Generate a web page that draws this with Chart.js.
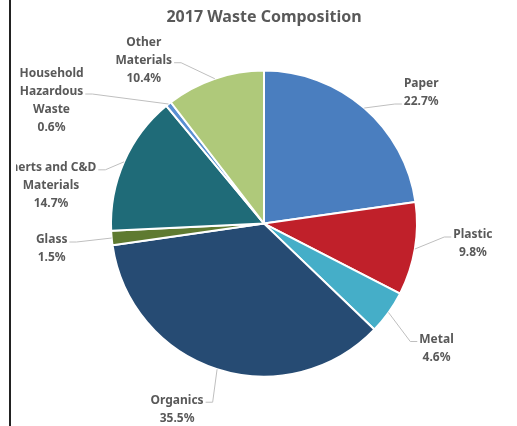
<!DOCTYPE html>
<html>
<head>
<meta charset="utf-8">
<script src="https://cdn.jsdelivr.net/npm/chart.js@4"></script>
<style>
  html, body { margin: 0; padding: 0; background: #fff; }
  #wrap { position: relative; width: 517px; height: 426px; }
  #frame { position: absolute; left: 9px; top: 0; width: 2px; height: 426px; background: #222; }
</style>
</head>
<body>
<div id="wrap">
  <canvas id="chart-waste" width="517" height="426"></canvas>
  <div id="frame"></div>
</div>
<script>
  /* ==================== DATA ==================== */

  let categories = [
    ['Paper'],
    ['Plastic'],
    ['Metal'],
    ['Organics'],
    ['Glass'],
    ['Inerts and C&D', 'Materials'],
    ['Household', 'Hazardous', 'Waste'],
    ['Other', 'Materials']
  ];
  let shares = [22.7, 9.8, 4.6, 35.5, 1.5, 14.7, 0.6, 10.4];
  let sliceColors = ['#4a7ebf', '#c0202a', '#45aec8', '#264b73', '#5f7a30', '#1f6b78', '#5a8fd2', '#afc97a'];

  /* label placement: text block centre relative to the slice's outer mid point */
  let labelPlace = [
    { dx: 57, dy: -15, row: 1 },
    { dx: 58, dy: -5, row: 0 },
    { dx: 48, dy: 36, row: 0 },
    { dx: -40, dy: 40, row: 0 },
    { dx: -60, dy: 11, row: 0 },
    { dx: -73, dy: 24, row: 0 },
    { dx: -117, dy: -3, row: 1 },
    { dx: -71, dy: -18, row: 1 }
  ];

  /* ==================== LABELS ==================== */

  let pieLabels = {
    id: 'pieLabels',
    afterDatasetsDraw(chart) {
      let ctx = chart.ctx;
      let arcs = chart.getDatasetMeta(0).data;
      let lineH = 18;

      ctx.save();
      ctx.beginPath();
      ctx.rect(16, 0, chart.width - 16, chart.height);
      ctx.clip();
      ctx.font = 'bold 12px "Noto Sans"';
      ctx.textAlign = 'center';
      ctx.textBaseline = 'middle';

      arcs.forEach((arc, i) => {
        let { x, y, startAngle, endAngle, outerRadius } = arc.getProps(['x', 'y', 'startAngle', 'endAngle', 'outerRadius'], true);
        let mid = (startAngle + endAngle) / 2;
        let px = x + Math.cos(mid) * outerRadius;
        let py = y + Math.sin(mid) * outerRadius;

        let lines = [...categories[i], shares[i].toFixed(1) + '%'];
        let place = labelPlace[i];
        let cx = px + place.dx;
        let cy = py + place.dy;
        let top = cy - (lines.length - 1) * lineH / 2;

        /* leader line */
        let rowW = ctx.measureText(lines[place.row]).width;
        let ay = top + place.row * lineH + 2;
        let ax = place.dx > 0 ? cx - rowW / 2 - 2 : cx + rowW / 2 + 2;
        let kx = place.dx > 0 ? ax - 7 : ax + 7;

        ctx.strokeStyle = '#bfbfbf';
        ctx.lineWidth = 1;
        ctx.beginPath();
        ctx.moveTo(px, py);
        ctx.lineTo(kx, ay);
        ctx.lineTo(ax, ay);
        ctx.stroke();

        ctx.fillStyle = '#595959';
        lines.forEach((t, j) => ctx.fillText(t, cx, top + j * lineH));
      });

      ctx.restore();
    }
  };

  /* ==================== CHART ==================== */

  let pieCtx = document.getElementById('chart-waste').getContext('2d');

  let chartWaste = new Chart(pieCtx, {
    type: 'pie',
    data: {
      labels: categories,
      datasets: [{
        data: shares,
        backgroundColor: sliceColors,
        borderColor: '#ffffff',
        borderWidth: 2
      }]
    },
    options: {
      responsive: false,
      animation: false,
      layout: { padding: { top: 0, bottom: 48, left: 110, right: 99 } },
      plugins: {
        legend: { display: false },
        tooltip: { enabled: false },
        title: {
          display: true,
          text: '2017 Waste Composition',
          color: '#595959',
          font: { family: 'Noto Sans', size: 16, weight: 'bold' },
          padding: { top: 8, bottom: 42 }
        }
      }
    },
    plugins: [pieLabels]
  });
</script>
</body>
</html>
